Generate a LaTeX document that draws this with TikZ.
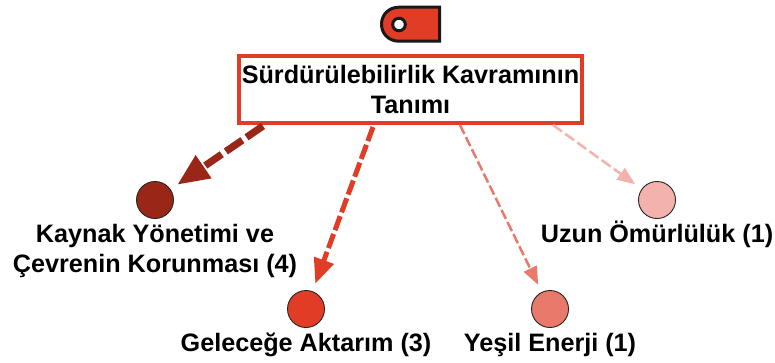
\documentclass[tikz,border=0pt]{standalone}
\usepackage{fontspec}
\setmainfont{Liberation Sans}
\usetikzlibrary{arrows.meta}
\definecolor{cmain}{HTML}{E03C26}
\definecolor{cdark}{HTML}{9A2617}
\definecolor{cmid}{HTML}{E8796B}
\definecolor{clight}{HTML}{F3B3AC}
\tikzset{
  x=1pt,y=-1pt,
  dot/.style={circle,draw=black!85,line width=0.9pt,minimum size=37pt,inner sep=0pt},
  lab/.style={font=\fontsize{25.2}{30}\selectfont\bfseries,align=center,text=black,inner sep=0pt,anchor=base},
  link/.style={shorten >=8pt},
}
\begin{document}
\begin{tikzpicture}
\useasboundingbox[fill=white] (0,0) rectangle (775,362);
% tag icon
\draw[fill=cmain,draw=black!90,line width=3pt,line join=miter]
  (439.5,7.2) -- (439.5,41.2) -- (399,41.2) .. controls (389,41.2) and (381.5,34) .. (381.5,24.2) .. controls (381.5,14.5) and (389,7.2) .. (399,7.2) -- cycle;
\draw[fill=white,draw=black!90,line width=3pt] (399,24.5) circle (6.3pt);
% main box
\node[draw=cmain,fill=white,line width=4pt,minimum width=343.5pt,minimum height=67pt,inner sep=0pt,
  font=\fontsize{25.2}{30}\selectfont\bfseries,align=center] (root) at (410.5,89.5)
  {Sürdürülebilirlik Kavramının\\Tanımı};
% circles
\node[dot,fill=cdark] (a) at (155,200) {};
\node[dot,fill=cmain] (b) at (306,309) {};
\node[dot,fill=cmid] (c) at (550,309) {};
\node[dot,fill=clight] (d) at (657,200) {};
% labels
\node[lab] (la) at (155,272) {Kaynak Yönetimi ve\\Çevrenin Korunması (4)};
\node[lab] (lb) at (306,351) {Geleceğe Aktarım (3)};
\node[lab] (lc) at (550,351) {Yeşil Enerji (1)};
\node[lab] (ld) at (657,242) {Uzun Ömürlülük (1)};
% edge start points on the box's lower side
\coordinate (sa) at (263,126);
\coordinate (sb) at (373,127);
\coordinate (sc) at (460,125);
\coordinate (sd) at (553,125);
% connectors
\draw[link,cdark,line width=7.2pt,dash pattern=on 20pt off 5pt,-{Triangle[length=32pt,width=26pt]}] (sa) -- (a);
\draw[link,cmain,line width=5pt,dash pattern=on 15pt off 4pt,-{Triangle[length=25pt,width=20pt]}] (sb) -- (b);
\draw[link,cmid,line width=2.5pt,dash pattern=on 10pt off 3.5pt,-{Triangle[length=18pt,width=14pt]}] (sc) -- (c);
\draw[link,clight,line width=2.5pt,dash pattern=on 11pt off 4pt,-{Triangle[length=18pt,width=14pt]}] (sd) -- (d);
\end{tikzpicture}
\end{document}
